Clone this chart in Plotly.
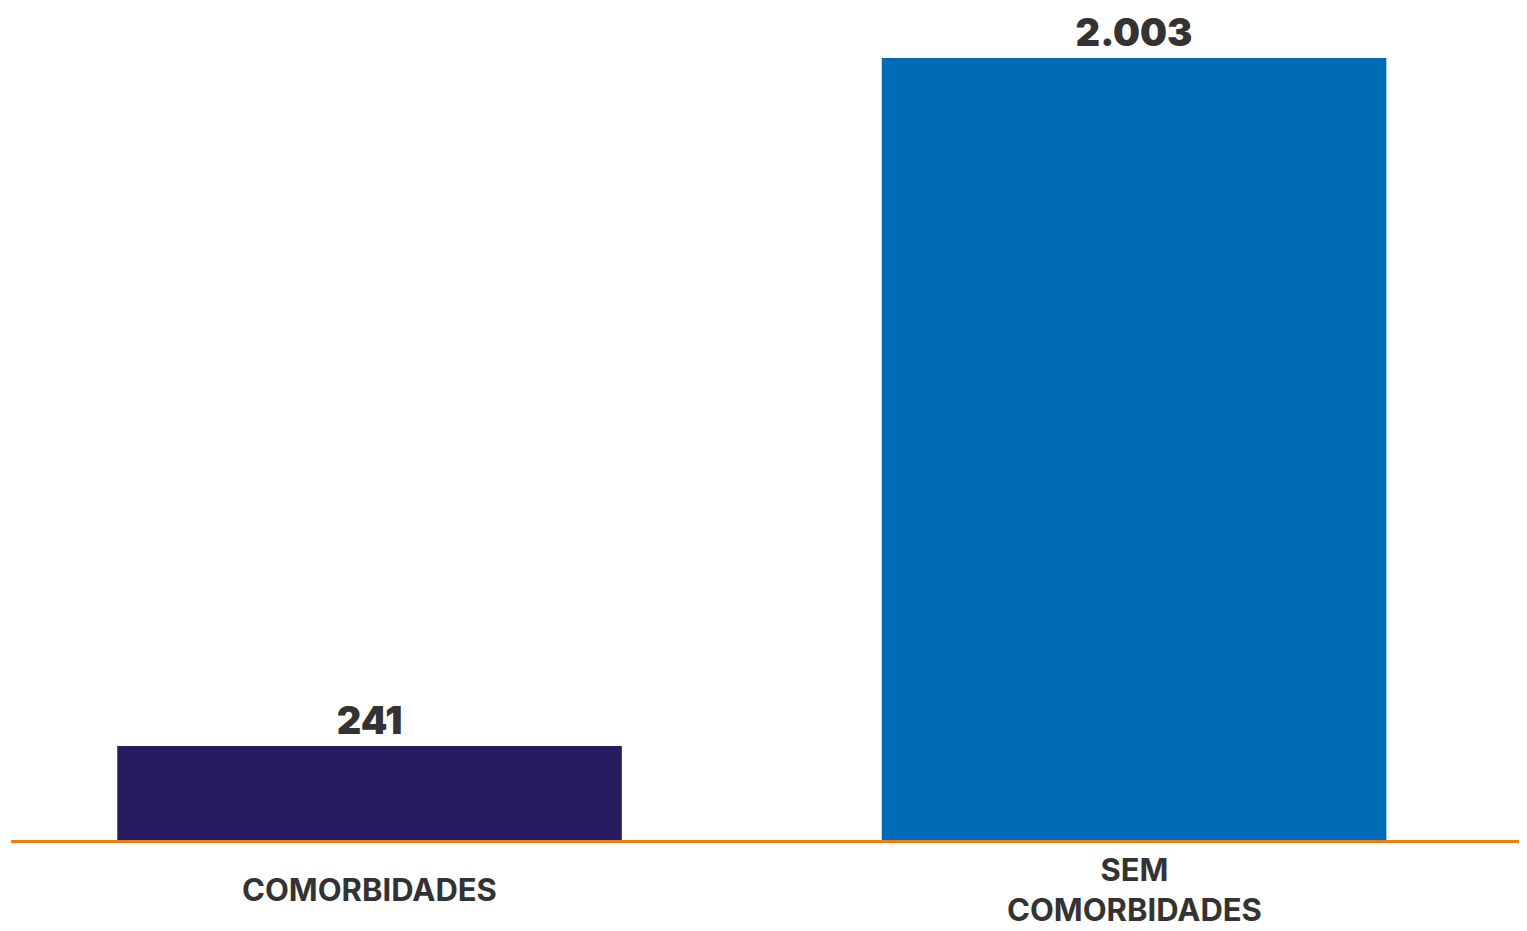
import plotly.graph_objects as go

categories = ["COMORBIDADES", "SEM COMORBIDADES"]
category_labels = ["COMORBIDADES", "SEM<br>COMORBIDADES"]
values = [241, 2003]
colors = ["#271C5F", "#006CB5"]

fig = go.Figure()
fig.add_trace(go.Bar(
    x=categories,
    y=values,
    marker=dict(color=colors, line=dict(width=0)),
    texttemplate="%{y:,}",
    textposition="outside",
    textfont=dict(family="Inter", size=38, color="#333333", weight=900),
    cliponaxis=False,
    hoverinfo="skip",
))

for cat, lab in zip(categories, category_labels):
    fig.add_annotation(
        x=cat, y=0, xref="x", yref="paper",
        text=lab, showarrow=False,
        yanchor="middle", yshift=-49,
        font=dict(family="Inter", size=31, color="#333333", weight=700),
    )

fig.update_layout(
    width=1519, height=923,
    margin=dict(l=3, r=0, t=0, b=91),
    paper_bgcolor="white", plot_bgcolor="white",
    separators=",.",
    bargap=0.34,
    showlegend=False,
    xaxis=dict(
        range=[-0.469, 1.514],
        showticklabels=False, ticks="",
        showline=True, linecolor="#EE7D11", linewidth=3,
        showgrid=False, zeroline=False,
    ),
    yaxis=dict(
        range=[0, 2131.1],
        visible=False, showgrid=False, zeroline=False,
    ),
)

fig.write_html("out.html")
